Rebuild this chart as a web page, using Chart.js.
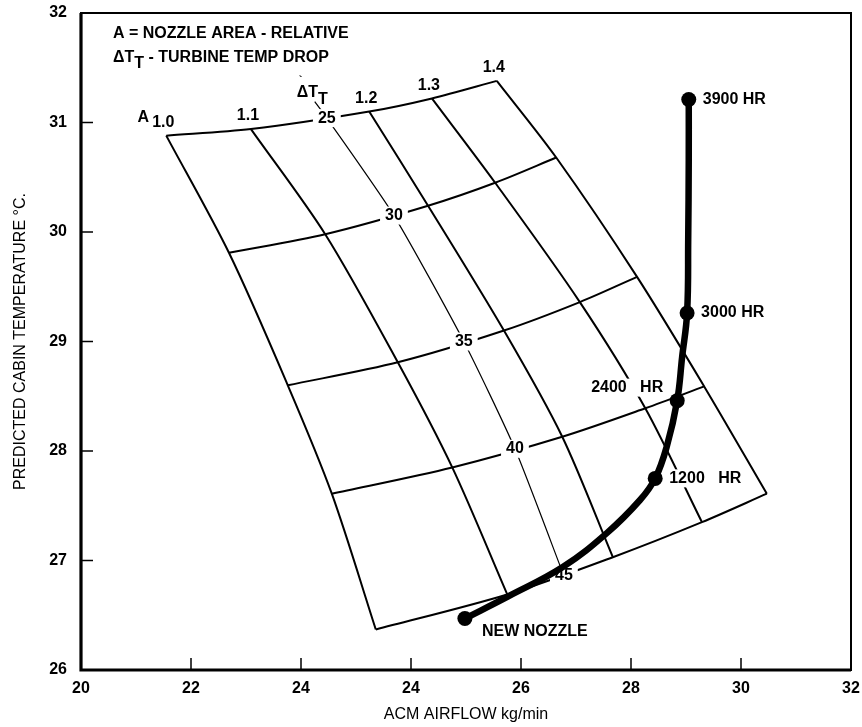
<!DOCTYPE html>
<html>
<head>
<meta charset="utf-8">
<script src="https://cdn.jsdelivr.net/npm/chart.js@4.4.1/dist/chart.umd.min.js"></script>
<style>
  html, body { margin: 0; padding: 0; background: #fff; }
  #wrap { width: 862px; height: 727px; }
</style>
</head>
<body>
<div id="wrap"><canvas id="chartCabin"></canvas></div>
<script>
// tick labels as printed on the original sheet (yes, "24" appears twice)
const xTickLabels = ['20', '22', '24', '24', '26', '28', '30', '32'];
const areaValues = ['1.0', '1.1', '1.2', '1.3', '1.4'];
const dtValues = ['25', '30', '35', '40', '45'];

// carpet nodes: one row per nozzle area A, columns = ΔT 25 .. 45
const gridX = [
    [19.55, 20.69, 21.76, 22.56, 23.36],
    [21.09, 22.44, 23.76, 24.75, 25.75],
    [23.24, 24.31, 25.69, 26.75, 27.67],
    [24.38, 25.53, 27.07, 28.26, 29.29],
    [25.56, 26.64, 28.11, 29.33, 30.47]
];
const gridY = [
    [30.88, 29.81, 28.60, 27.61, 26.37],
    [30.94, 29.98, 28.81, 27.85, 26.69],
    [31.10, 30.24, 29.10, 28.13, 27.03],
    [31.22, 30.45, 29.36, 28.39, 27.35],
    [31.38, 30.68, 29.59, 28.59, 27.61]
];

// thin ΔT scale line (first point is the tail under the ΔT label)
const dtLineX = [22.25, 22.47, 23.69, 24.96, 25.89, 26.78];
const dtLineY = [31.19, 31.04, 30.15, 29.00, 28.02, 26.86];

// nozzle wear curve
const wearX = [24.98, 25.76, 26.76, 27.56, 28.16, 28.44, 28.65, 28.84, 28.93, 29.02, 29.04, 29.05, 29.05];
const wearY = [26.47, 26.67, 26.94, 27.25, 27.55, 27.75, 28.04, 28.46, 28.86, 29.26, 29.93, 30.66, 31.21];
const wearLabels = ['NEW NOZZLE', '', '', '', '', '1200   HR', '', '2400   HR', '', '3000 HR', '', '', '3900 HR'];

Chart.defaults.font.family = "'Liberation Sans', Arial, sans-serif";
Chart.defaults.color = '#000';

const FONT_B = "bold 16px 'Liberation Sans', Arial, sans-serif";

const toPoints = (xs, ys) => xs.map((x, i) => ({ x: x, y: ys[i] }));

const datasets = [];
// 0: wear curve (drawn last, on top)
datasets.push({
    data: toPoints(wearX, wearY),
    borderColor: '#000',
    backgroundColor: '#000',
    borderWidth: 6.5,
    tension: 0.4,
    pointRadius: wearLabels.map(l => l ? 7.5 : 0),
    pointBorderWidth: 0,
    showLine: true
});
// 1: thin ΔT label line
datasets.push({
    data: toPoints(dtLineX, dtLineY),
    borderColor: '#000',
    borderWidth: 1.2,
    tension: 0.2,
    pointRadius: 0,
    showLine: true
});
// constant A lines
gridX.forEach((row, i) => {
    datasets.push({
        data: toPoints(row, gridY[i]),
        borderColor: '#000',
        borderWidth: 2,
        tension: 0.3,
        pointRadius: 0,
        showLine: true
    });
});
// constant ΔT lines
dtValues.forEach((v, j) => {
    datasets.push({
        data: gridX.map((row, i) => ({ x: row[j], y: gridY[i][j] })),
        borderColor: '#000',
        borderWidth: 2,
        tension: 0.3,
        pointRadius: 0,
        showLine: true
    });
});

function boxedText(ctx, text, x, y, align) {
    const w = ctx.measureText(text).width;
    let left = x;
    if (align === 'center') left = x - w / 2;
    if (align === 'right') left = x - w;
    ctx.fillStyle = '#fff';
    ctx.fillRect(left - 5, y - 9, w + 10, 18);
    ctx.fillStyle = '#000';
    ctx.textAlign = align;
    ctx.fillText(text, x, y);
}

const overlay = {
    id: 'overlay',
    beforeDatasetsDraw(chart) {
        const { ctx, chartArea: a, scales: { x, y } } = chart;
        ctx.save();
        ctx.strokeStyle = '#000';
        ctx.lineWidth = 2;
        ctx.strokeRect(a.left, a.top, a.right - a.left, a.bottom - a.top);
        ctx.lineWidth = 3.2;
        ctx.beginPath();
        ctx.moveTo(a.left, a.top);
        ctx.lineTo(a.left, a.bottom);
        ctx.lineTo(a.right, a.bottom);
        ctx.stroke();
        // inward tick marks
        ctx.lineWidth = 1.5;
        ctx.beginPath();
        x.ticks.forEach(t => {
            const px = x.getPixelForValue(t.value);
            ctx.moveTo(px, a.bottom);
            ctx.lineTo(px, a.bottom - 12);
        });
        y.ticks.forEach(t => {
            const py = y.getPixelForValue(t.value);
            ctx.moveTo(a.left, py);
            ctx.lineTo(a.left + 12, py);
        });
        ctx.stroke();
        ctx.restore();
    },
    afterDatasetDraw(chart, args) {
        if (args.index !== 1) return; // labels go under the wear curve only
        const { ctx, scales: { x, y } } = chart;
        ctx.save();
        ctx.font = FONT_B;
        ctx.textBaseline = 'middle';

        // ΔT values on the thin line
        dtValues.forEach((v, j) => {
            boxedText(ctx, v, x.getPixelForValue(dtLineX[j + 1]), y.getPixelForValue(dtLineY[j + 1]), 'center');
        });

        // A values above the top edge
        ctx.textAlign = 'center';
        areaValues.forEach((v, i) => {
            ctx.fillText(v, x.getPixelForValue(gridX[i][0]) - 3, y.getPixelForValue(gridY[i][0]) - 13);
        });
        const ax = x.getPixelForValue(gridX[0][0]);
        const ay = y.getPixelForValue(gridY[0][0]);
        ctx.fillText('A', ax - 23, ay - 18);

        // ΔT_T tag on the thin line
        const tx = x.getPixelForValue(dtLineX[0]);
        const ty = y.getPixelForValue(dtLineY[0]);
        ctx.textAlign = 'left';
        ctx.textBaseline = 'alphabetic';
        ctx.fillText('\u0394T', tx - 18, ty - 5);
        const wd = ctx.measureText('\u0394T').width;
        ctx.fillText('T', tx - 18 + wd, ty + 2);
        ctx.font = "bold 11px 'Liberation Sans', Arial, sans-serif";
        ctx.fillText('`', tx - 16, ty - 19);

        // hour labels
        ctx.font = FONT_B;
        ctx.textBaseline = 'middle';
        wearLabels.forEach((l, i) => {
            if (!l) return;
            const px = x.getPixelForValue(wearX[i]);
            const py = y.getPixelForValue(wearY[i]);
            if (l.startsWith('NEW')) boxedText(ctx, l, px + 17, py + 13, 'left');
            else if (l.startsWith('2400')) boxedText(ctx, l, px - 14, py - 13, 'right');
            else boxedText(ctx, l, px + 14, py, 'left');
        });
        ctx.restore();
    },
    afterDraw(chart) {
        const { ctx, chartArea: a } = chart;
        ctx.save();
        ctx.fillStyle = '#000';
        ctx.font = FONT_B;
        ctx.textAlign = 'left';
        ctx.textBaseline = 'alphabetic';
        const lx = a.left + 32;
        ctx.fillText('A = NOZZLE AREA - RELATIVE', lx, a.top + 25);
        ctx.fillText('\u0394T', lx, a.top + 49);
        const w = ctx.measureText('\u0394T').width;
        ctx.fillText('T', lx + w, a.top + 55);
        const w2 = ctx.measureText('T').width;
        ctx.fillText(' - TURBINE TEMP DROP', lx + w + w2, a.top + 49);
        ctx.restore();
    }
};

new Chart(document.getElementById('chartCabin'), {
    type: 'scatter',
    data: { datasets: datasets },
    options: {
        responsive: true,
        maintainAspectRatio: false,
        animation: false,
        layout: { padding: { top: 13, right: 11, left: 0, bottom: 0 } },
        plugins: {
            legend: { display: false },
            tooltip: { enabled: false }
        },
        scales: {
            x: {
                type: 'linear',
                min: 18,
                max: 32,
                ticks: {
                    stepSize: 2,
                    padding: 9,
                    font: { size: 16, weight: 'bold' },
                    callback: (v, i) => xTickLabels[i]
                },
                grid: { display: false, drawTicks: false },
                border: { display: false },
                title: {
                    display: true,
                    text: 'ACM AIRFLOW kg/min',
                    font: { size: 16 },
                    padding: { top: 0, bottom: 3 }
                },
                afterFit: (scale) => {
                    scale.height = 57;
                    scale.paddingLeft = 0;
                    scale.paddingRight = 0;
                }
            },
            y: {
                type: 'linear',
                min: 26,
                max: 32,
                ticks: {
                    stepSize: 1,
                    padding: 14,
                    font: { size: 16, weight: 'bold' }
                },
                grid: { display: false, drawTicks: false },
                border: { display: false },
                title: {
                    display: true,
                    text: 'PREDICTED CABIN TEMPERATURE \u00B0C.',
                    font: { size: 16 },
                    padding: { top: 11, bottom: 0 }
                },
                afterFit: (scale) => {
                    scale.width = 81;
                    scale.paddingTop = 0;
                    scale.paddingBottom = 0;
                }
            }
        }
    },
    plugins: [overlay]
});
</script>
</body>
</html>
